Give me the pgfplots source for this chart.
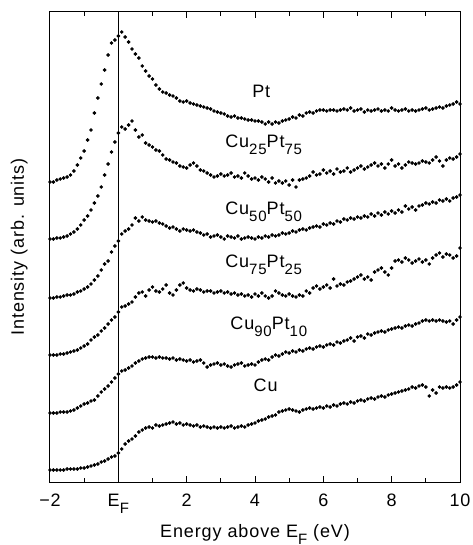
\documentclass[border=0pt]{standalone}
\usepackage{fontspec}
\setmainfont{Liberation Sans}[LetterSpace=5]
\usepackage{pgfplots}
\pgfplotsset{compat=1.18}
\newcommand\sub[1]{\raisebox{-3.2pt}{\fontsize{7.5}{8}\selectfont #1}}
\begin{document}
\fontsize{9}{10}\selectfont
\begin{tikzpicture}
\begin{axis}[
  at={(0,0)}, anchor=south west,
  scale only axis, width=205pt, height=235pt,
  xmin=-2, xmax=10, ymin=0, ymax=470,
  clip=false,
  axis line style={line width=0.5pt},
  xtick={-2,0,2,4,6,8,10},
  xticklabels={−2,E\sub{F},2,4,6,8,10},
  minor xtick={-1,1,3,5,7,9},
  ytick=\empty,
  tick align=inside,
  xtick pos=both,
  major tick length=3pt, minor tick length=2pt,
  every tick/.style={black, line width=0.5pt},
  xticklabel style={anchor=base, yshift=-12.5pt},
  xlabel={Energy above E\sub{F} (eV)},
  xlabel style={at={(axis description cs:0.5,-0.119)}, anchor=base},
  ylabel={Intensity (arb. units)},
  ylabel style={at={(axis description cs:-0.075,0.5)}, rotate=0, anchor=center},
  /pgf/number format/assume math mode=true,
  dot/.style={only marks, mark=*, mark size=0.7pt, black, mark options={solid, fill=black, draw=black}},
]
% vertical line at E_F
\addplot[no marks, sharp plot, black, line width=0.5pt] coordinates {(0,0) (0,470)};
% Pt
\addplot[dot] coordinates {(-2.0,300)(-1.9,300)(-1.8,302)(-1.7,303)(-1.6,304)(-1.5,305)(-1.4,307)(-1.3,311)(-1.2,317)(-1.1,324)(-1.0,331)(-0.9,342)(-0.8,352)(-0.7,369)(-0.6,384)(-0.5,398)(-0.4,412)(-0.3,427)(-0.2,439)(-0.1,442)(0.0,446)(0.1,450)(0.2,445)(0.3,440)(0.4,433)(0.5,428)(0.6,424)(0.7,416)(0.8,411)(0.9,406)(1.0,403)(1.1,397)(1.2,393)(1.3,390)(1.4,389)(1.5,387)(1.6,386)(1.7,384)(1.8,381)(1.9,380)(2.0,381)(2.1,379)(2.2,378)(2.3,377)(2.4,376)(2.5,375)(2.6,374)(2.7,373)(2.8,371)(2.9,370)(3.0,369)(3.1,368)(3.2,366)(3.3,365)(3.4,366)(3.5,364)(3.6,364)(3.7,363)(3.8,362)(3.9,362)(4.0,361)(4.1,361)(4.2,360)(4.3,358)(4.4,360)(4.5,358)(4.6,360)(4.7,359)(4.8,361)(4.9,362)(5.0,363)(5.1,365)(5.2,364)(5.3,367)(5.4,366)(5.5,369)(5.6,370)(5.7,369)(5.8,371)(5.9,372)(6.0,372)(6.1,371)(6.2,372)(6.3,372)(6.4,371)(6.5,372)(6.6,373)(6.7,372)(6.8,374)(6.9,371)(7.0,372)(7.1,373)(7.2,370)(7.3,372)(7.4,371)(7.5,372)(7.6,373)(7.7,371)(7.8,372)(7.9,371)(8.0,374)(8.1,372)(8.2,371)(8.3,372)(8.4,373)(8.5,371)(8.6,372)(8.7,371)(8.8,372)(8.9,373)(9.0,374)(9.1,372)(9.2,373)(9.3,374)(9.4,375)(9.5,374)(9.6,376)(9.7,377)(9.8,378)(9.9,380)(10.0,378)};
% Cu25Pt75
\addplot[dot] coordinates {(-2.0,243)(-1.9,243)(-1.8,244)(-1.7,244)(-1.6,245)(-1.5,246)(-1.4,248)(-1.3,250)(-1.2,253)(-1.1,257)(-1.0,262)(-0.9,266)(-0.8,272)(-0.7,279)(-0.6,286)(-0.5,295)(-0.4,307)(-0.3,318)(-0.2,330)(-0.1,340)(0.0,349)(0.1,355)(0.2,353)(0.3,357)(0.4,361)(0.5,352)(0.6,345)(0.7,347)(0.8,339)(0.9,337)(1.0,335)(1.1,332)(1.2,331)(1.3,327)(1.4,323)(1.5,322)(1.6,320)(1.7,319)(1.8,316)(1.9,315)(2.0,314)(2.1,317)(2.2,319)(2.3,316)(2.4,312)(2.5,311)(2.6,309)(2.7,307)(2.8,305)(2.9,306)(3.0,308)(3.1,306)(3.2,307)(3.3,309)(3.4,305)(3.5,306)(3.6,304)(3.7,309)(3.8,306)(3.9,303)(4.0,304)(4.1,302)(4.2,305)(4.3,303)(4.4,300)(4.5,304)(4.6,299)(4.7,301)(4.8,299)(4.9,301)(5.0,297)(5.1,302)(5.2,295)(5.3,302)(5.4,303)(5.5,304)(5.6,306)(5.7,310)(5.8,307)(5.9,308)(6.0,312)(6.1,309)(6.2,311)(6.3,308)(6.4,313)(6.5,310)(6.6,311)(6.7,314)(6.8,310)(6.9,312)(7.0,314)(7.1,316)(7.2,313)(7.3,315)(7.4,317)(7.5,319)(7.6,316)(7.7,318)(7.8,314)(7.9,318)(8.0,322)(8.1,316)(8.2,318)(8.3,314)(8.4,317)(8.5,320)(8.6,319)(8.7,318)(8.8,319)(8.9,321)(9.0,320)(9.1,319)(9.2,322)(9.3,325)(9.4,321)(9.5,316)(9.6,322)(9.7,324)(9.8,323)(9.9,325)(10.0,328)};
% Cu50Pt50
\addplot[dot] coordinates {(-2.0,184)(-1.9,184)(-1.8,185)(-1.7,185)(-1.6,186)(-1.5,187)(-1.4,187)(-1.3,188)(-1.2,190)(-1.1,191)(-1.0,193)(-0.9,195)(-0.8,198)(-0.7,202)(-0.6,206)(-0.5,212)(-0.4,218)(-0.3,221)(-0.2,230)(-0.1,236)(0.0,241)(0.1,248)(0.2,251)(0.3,253)(0.4,257)(0.5,264)(0.6,261)(0.7,265)(0.8,262)(0.9,261)(1.0,260)(1.1,261)(1.2,259)(1.3,258)(1.4,256)(1.5,254)(1.6,255)(1.7,253)(1.8,251)(1.9,253)(2.0,252)(2.1,251)(2.2,252)(2.3,250)(2.4,249)(2.5,247)(2.6,248)(2.7,245)(2.8,246)(2.9,247)(3.0,245)(3.1,243)(3.2,246)(3.3,245)(3.4,244)(3.5,246)(3.6,243)(3.7,244)(3.8,245)(3.9,244)(4.0,243)(4.1,245)(4.2,244)(4.3,246)(4.4,245)(4.5,247)(4.6,246)(4.7,247)(4.8,249)(4.9,248)(5.0,249)(5.1,251)(5.2,250)(5.3,252)(5.4,253)(5.5,252)(5.6,254)(5.7,255)(5.8,256)(5.9,255)(6.0,258)(6.1,257)(6.2,259)(6.3,258)(6.4,261)(6.5,260)(6.6,263)(6.7,262)(6.8,264)(6.9,263)(7.0,265)(7.1,264)(7.2,266)(7.3,265)(7.4,268)(7.5,266)(7.6,269)(7.7,267)(7.8,270)(7.9,268)(8.0,271)(8.1,269)(8.2,272)(8.3,270)(8.4,276)(8.5,273)(8.6,275)(8.7,272)(8.8,276)(8.9,277)(9.0,279)(9.1,278)(9.2,280)(9.3,279)(9.4,282)(9.5,281)(9.6,283)(9.7,281)(9.8,284)(9.9,285)(10.0,287)};
% Cu75Pt25
\addplot[dot] coordinates {(-2.0,127)(-1.9,127)(-1.8,127)(-1.7,128)(-1.6,128)(-1.5,129)(-1.4,130)(-1.3,131)(-1.2,132)(-1.1,134)(-1.0,136)(-0.9,138)(-0.8,142)(-0.7,145)(-0.6,147)(-0.5,151)(-0.4,154)(-0.3,158)(-0.2,162)(-0.1,165)(0.0,170)(0.1,175)(0.2,176)(0.3,178)(0.4,180)(0.5,185)(0.6,189)(0.7,190)(0.8,186)(0.9,192)(1.0,195)(1.1,191)(1.2,190)(1.3,193)(1.4,197)(1.5,189)(1.6,187)(1.7,192)(1.8,197)(1.9,199)(2.0,194)(2.1,192)(2.2,191)(2.3,193)(2.4,192)(2.5,190)(2.6,191)(2.7,191)(2.8,189)(2.9,190)(3.0,191)(3.1,189)(3.2,190)(3.3,188)(3.4,189)(3.5,187)(3.6,188)(3.7,186)(3.8,187)(3.9,185)(4.0,188)(4.1,186)(4.2,189)(4.3,186)(4.4,184)(4.5,186)(4.6,191)(4.7,189)(4.8,187)(4.9,186)(5.0,188)(5.1,186)(5.2,185)(5.3,187)(5.4,186)(5.5,191)(5.6,189)(5.7,194)(5.8,196)(5.9,193)(6.0,195)(6.1,197)(6.2,194)(6.3,203)(6.4,196)(6.5,198)(6.6,197)(6.7,200)(6.8,201)(6.9,203)(7.0,205)(7.1,207)(7.2,203)(7.3,205)(7.4,202)(7.5,210)(7.6,212)(7.7,214)(7.8,210)(7.9,207)(8.0,214)(8.1,221)(8.2,222)(8.3,220)(8.4,224)(8.5,222)(8.6,219)(8.7,221)(8.8,223)(8.9,220)(9.0,222)(9.1,218)(9.2,224)(9.3,227)(9.4,229)(9.5,225)(9.6,228)(9.7,227)(9.8,224)(9.9,226)(10.0,234)};
% Cu90Pt10
\addplot[dot] coordinates {(-2.0,69)(-1.9,69)(-1.8,69)(-1.7,70)(-1.6,70)(-1.5,70)(-1.4,71)(-1.3,72)(-1.2,74)(-1.1,76)(-1.0,78)(-0.9,79)(-0.8,81)(-0.7,82)(-0.6,86)(-0.5,90)(-0.4,93)(-0.3,96)(-0.2,100)(-0.1,104)(0.0,108)(0.1,111)(0.2,112)(0.3,114)(0.4,116)(0.5,119)(0.6,121)(0.7,123)(0.8,124)(0.9,125)(1.0,125)(1.1,124)(1.2,125)(1.3,124)(1.4,124)(1.5,123)(1.6,124)(1.7,122)(1.8,123)(1.9,122)(2.0,121)(2.1,122)(2.2,120)(2.3,121)(2.4,122)(2.5,119)(2.6,115)(2.7,117)(2.8,118)(2.9,119)(3.0,117)(3.1,118)(3.2,116)(3.3,115)(3.4,117)(3.5,118)(3.6,119)(3.7,116)(3.8,117)(3.9,118)(4.0,117)(4.1,120)(4.2,122)(4.3,123)(4.4,122)(4.5,125)(4.6,127)(4.7,126)(4.8,128)(4.9,130)(5.0,129)(5.1,131)(5.2,130)(5.3,132)(5.4,131)(5.5,133)(5.6,134)(5.7,133)(5.8,135)(5.9,136)(6.0,135)(6.1,137)(6.2,138)(6.3,137)(6.4,140)(6.5,139)(6.6,141)(6.7,142)(6.8,144)(6.9,141)(7.0,145)(7.1,146)(7.2,144)(7.3,148)(7.4,147)(7.5,149)(7.6,150)(7.7,151)(7.8,150)(7.9,152)(8.0,153)(8.1,154)(8.2,155)(8.3,154)(8.4,156)(8.5,157)(8.6,156)(8.7,158)(8.8,159)(8.9,161)(9.0,162)(9.1,161)(9.2,162)(9.3,161)(9.4,162)(9.5,161)(9.6,160)(9.7,161)(9.8,158)(9.9,162)(10.0,165)};
% Cu
\addplot[dot] coordinates {(-2.0,12)(-1.9,12)(-1.8,12)(-1.7,12)(-1.6,12)(-1.5,13)(-1.4,13)(-1.3,13)(-1.2,13)(-1.1,14)(-1.0,14)(-0.9,15)(-0.8,16)(-0.7,17)(-0.6,18)(-0.5,20)(-0.4,21)(-0.3,23)(-0.2,25)(-0.1,26)(0.0,29)(0.1,33)(0.2,38)(0.3,41)(0.4,43)(0.5,46)(0.6,50)(0.7,52)(0.8,54)(0.9,55)(1.0,54)(1.1,57)(1.2,56)(1.3,57)(1.4,58)(1.5,59)(1.6,60)(1.7,58)(1.8,59)(1.9,57)(2.0,58)(2.1,57)(2.2,56)(2.3,57)(2.4,55)(2.5,56)(2.6,55)(2.7,54)(2.8,55)(2.9,54)(3.0,55)(3.1,54)(3.2,55)(3.3,56)(3.4,54)(3.5,55)(3.6,56)(3.7,55)(3.8,57)(3.9,58)(4.0,59)(4.1,61)(4.2,62)(4.3,63)(4.4,65)(4.5,66)(4.6,67)(4.7,70)(4.8,71)(4.9,72)(5.0,73)(5.1,72)(5.2,71)(5.3,70)(5.4,72)(5.5,73)(5.6,74)(5.7,73)(5.8,74)(5.9,75)(6.0,74)(6.1,76)(6.2,75)(6.3,77)(6.4,76)(6.5,78)(6.6,79)(6.7,78)(6.8,80)(6.9,79)(7.0,81)(7.1,82)(7.2,81)(7.3,83)(7.4,84)(7.5,83)(7.6,85)(7.7,86)(7.8,85)(7.9,87)(8.0,88)(8.1,89)(8.2,90)(8.3,91)(8.4,92)(8.5,93)(8.6,95)(8.7,94)(8.8,96)(8.9,97)(9.0,95)(9.1,86)(9.2,92)(9.3,89)(9.4,95)(9.5,94)(9.6,95)(9.7,94)(9.8,95)(9.9,97)(10.0,100)};
% labels
\node[anchor=base west, inner sep=0pt] at (axis cs:3.91,384) {Pt};
\node[anchor=base west, inner sep=0pt] at (axis cs:3.12,334) {Cu\sub{25}Pt\sub{75}};
\node[anchor=base west, inner sep=0pt] at (axis cs:3.12,267) {Cu\sub{50}Pt\sub{50}};
\node[anchor=base west, inner sep=0pt] at (axis cs:3.12,214) {Cu\sub{75}Pt\sub{25}};
\node[anchor=base west, inner sep=0pt] at (axis cs:3.27,152) {Cu\sub{90}Pt\sub{10}};
\node[anchor=base west, inner sep=0pt] at (axis cs:3.95,90) {Cu};
\end{axis}
\pgfresetboundingbox
\path (-25pt,-31.5pt) rectangle (211pt,241pt);
\end{tikzpicture}
\end{document}
